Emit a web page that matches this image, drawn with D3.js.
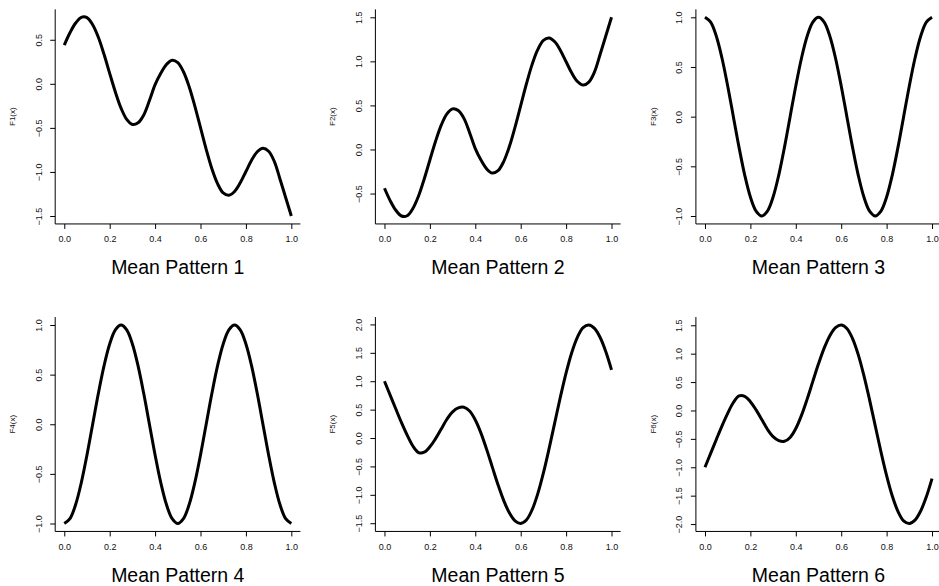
<!DOCTYPE html>
<html><head><meta charset="utf-8">
<script src="https://cdn.jsdelivr.net/npm/d3@7"></script>
<style>
body{margin:0;background:#fff}
svg{display:block}
text{font-family:"Liberation Sans",Arial,Helvetica,sans-serif}
</style>
</head><body>
<svg id="chart" width="939" height="586"></svg>
<script>
// ---------- data ----------
const tValues = [0,0.025,0.05,0.075,0.1,0.125,0.15,0.175,0.2,0.225,0.25,0.275,0.3,0.325,0.35,0.375,0.4,0.425,0.45,0.475,
  0.5,0.525,0.55,0.575,0.6,0.625,0.65,0.675,0.7,0.725,0.75,0.775,0.8,0.825,0.85,0.875,0.9,0.925,0.95,0.975,1];

const F1 = [0.44,0.58,0.69,0.755,0.752,0.67,0.528,0.335,0.119,-0.093,-0.276,-0.404,-0.461,-0.442,-0.353,-0.19,-0.01,0.12,0.22,0.268,
  0.241,0.137,-0.033,-0.253,-0.498,-0.743,-0.963,-1.133,-1.238,-1.265,-1.222,-1.124,-0.995,-0.867,-0.771,-0.731,-0.765,-0.88,-1.08,-1.29,-1.5];
const F2 = [-0.44,-0.58,-0.69,-0.755,-0.752,-0.67,-0.528,-0.335,-0.119,0.093,0.276,0.404,0.461,0.442,0.353,0.19,0.01,-0.12,-0.22,-0.268,
  -0.241,-0.137,0.033,0.253,0.498,0.743,0.963,1.133,1.238,1.265,1.222,1.124,0.995,0.867,0.771,0.731,0.765,0.88,1.08,1.29,1.5];
const F3 = [1,0.951,0.809,0.588,0.309,0,-0.309,-0.588,-0.809,-0.951,-1,-0.951,-0.809,-0.588,-0.309,0,0.309,0.588,0.809,0.951,
  1,0.951,0.809,0.588,0.309,0,-0.309,-0.588,-0.809,-0.951,-1,-0.951,-0.809,-0.588,-0.309,0,0.309,0.588,0.809,0.951,1];
const F4 = [-1,-0.951,-0.809,-0.588,-0.309,0,0.309,0.588,0.809,0.951,1,0.951,0.809,0.588,0.309,0,-0.309,-0.588,-0.809,-0.951,
  -1,-0.951,-0.809,-0.588,-0.309,0,0.309,0.588,0.809,0.951,1,0.951,0.809,0.588,0.309,0,-0.309,-0.588,-0.809,-0.951,-1];
const F5 = [1.0,0.755,0.51,0.27,0.05,-0.14,-0.255,-0.25,-0.155,-0.01,0.16,0.33,0.46,0.53,0.543,0.475,0.318,0.087,-0.2,-0.512,
  -0.821,-1.098,-1.317,-1.457,-1.505,-1.444,-1.266,-0.984,-0.615,-0.187,0.27,0.726,1.148,1.507,1.777,1.943,1.99,1.93,1.77,1.52,1.2];
const F6 = [-1.0,-0.755,-0.51,-0.27,-0.05,0.14,0.255,0.25,0.155,0.01,-0.16,-0.33,-0.46,-0.53,-0.543,-0.475,-0.318,-0.087,0.2,0.512,
  0.821,1.098,1.317,1.457,1.505,1.444,1.266,0.984,0.615,0.187,-0.27,-0.726,-1.148,-1.507,-1.777,-1.943,-1.99,-1.93,-1.77,-1.52,-1.2];

const xTicks = [0,0.2,0.4,0.6,0.8,1.0];
const yTicks1 = [-1.5,-1.0,-0.5,0.0,0.5];
const yTicks2 = [-0.5,0.0,0.5,1.0,1.5];
const yTicks3 = [-1.0,-0.5,0.0,0.5,1.0];
const yTicks4 = [-1.0,-0.5,0.0,0.5,1.0];
const yTicks5 = [-1.5,-1.0,-0.5,0.0,0.5,1.0,1.5,2.0];
const yTicks6 = [-2.0,-1.5,-1.0,-0.5,0.0,0.5,1.0,1.5];

const titles = ["Mean Pattern 1","Mean Pattern 2","Mean Pattern 3","Mean Pattern 4","Mean Pattern 5","Mean Pattern 6"];
const yLabels = ["F1(x)","F2(x)","F3(x)","F4(x)","F5(x)","F6(x)"];

// ---------- layout ----------
const series = [F1,F2,F3,F4,F5,F6];
const yTickSets = [yTicks1,yTicks2,yTicks3,yTicks4,yTicks5,yTicks6];
const colLeft = [55.2, 375.4, 695.9];
const rowTop = [9.35, 317.06];
const rowBottom = [223.95, 531.44];
const plotW = 245.2;

const svg = d3.select("#chart");
const fmt = d3.format(".1f");

series.forEach((vals, i) => {
  const col = i % 3, row = Math.floor(i / 3);
  const L = colLeft[col], R = L + plotW, T = rowTop[row], B = rowBottom[row];
  const x = d3.scaleLinear().domain([-0.04, 1.04]).range([L, R]);
  const ext = d3.extent(vals);
  const r = ext[1] - ext[0];
  const y = d3.scaleLinear().domain([ext[0] - 0.04 * r, ext[1] + 0.04 * r]).range([B, T]);

  const g = svg.append("g");

  // L-shaped box
  g.append("path")
    .attr("d", `M${L},${T}V${B}H${R}`)
    .attr("fill", "none").attr("stroke", "#000").attr("stroke-width", 1);

  // x axis
  const ax = g.append("g").attr("transform", `translate(0,${B})`)
    .call(d3.axisBottom(x).tickValues(xTicks).tickSize(5).tickFormat(fmt));
  ax.select(".domain").remove();
  ax.selectAll(".tick line").attr("stroke", "#000");
  ax.selectAll(".tick text")
    .attr("y", 18.5).attr("dy", null)
    .attr("fill", "#111").style("font-size", "9px")
    .style("font-family", '"Liberation Sans",Arial,sans-serif');

  // y axis
  const ay = g.append("g").attr("transform", `translate(${L},0)`)
    .call(d3.axisLeft(y).tickValues(yTickSets[i]).tickSize(5).tickFormat(fmt));
  ay.select(".domain").remove();
  ay.selectAll(".tick line").attr("stroke", "#000");
  ay.selectAll(".tick text")
    .attr("x", null).attr("dy", null)
    .attr("transform", "translate(-13.5,0) rotate(-90)")
    .attr("text-anchor", "middle")
    .attr("fill", "#111").style("font-size", "9px")
    .style("font-family", '"Liberation Sans",Arial,sans-serif');

  // curve
  const line = d3.line()
    .x((d, j) => x(tValues[j]))
    .y(d => y(d))
    .curve(d3.curveCatmullRom.alpha(0.5));
  g.append("path")
    .datum(vals)
    .attr("d", line)
    .attr("fill", "none")
    .attr("stroke", "#000")
    .attr("stroke-width", 3)
    .attr("stroke-linejoin", "round")
    .attr("stroke-linecap", "butt");

  // y label
  g.append("text")
    .attr("transform", `translate(${L - 40},${(T + B) / 2}) rotate(-90)`)
    .attr("text-anchor", "middle")
    .style("font-size", "8px")
    .attr("fill", "#111")
    .text(yLabels[i]);

  // title
  g.append("text")
    .attr("x", (L + R) / 2)
    .attr("y", B + 50.3)
    .attr("text-anchor", "middle")
    .style("font-size", "19.5px")
    .attr("fill", "#000")
    .text(titles[i]);
});
</script>
</body></html>
